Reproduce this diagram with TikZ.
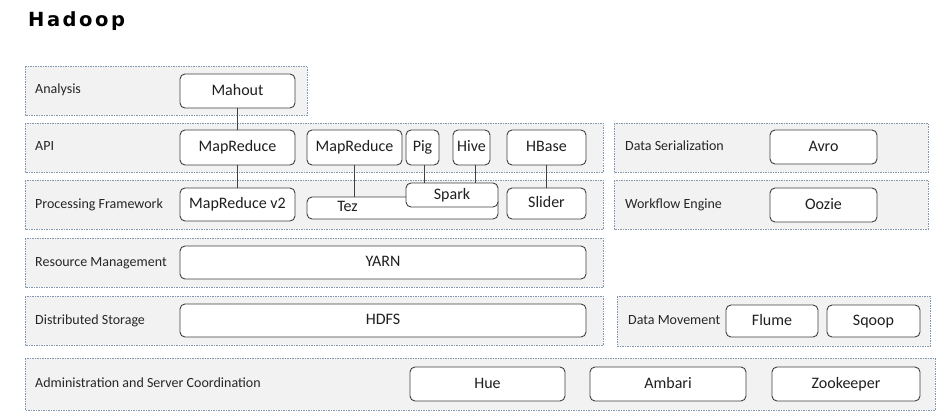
\documentclass[tikz,border=0pt]{standalone}
\usepackage{fontspec}
\setmainfont{Carlito}
\newfontfamily\titlefont[LetterSpace=13]{DejaVu Sans}
\definecolor{bandfill}{HTML}{F2F2F2}
\definecolor{bandline}{HTML}{8497B0}
\definecolor{boxline}{HTML}{404040}
\begin{document}
\begin{tikzpicture}[x=1pt,y=-1pt,
  band/.style={draw=bandline, fill=bandfill, dashed, dash pattern=on 1.5pt off 1pt, line width=0.7pt},
  bandlabel/.style={anchor=west, font=\fontsize{14}{16}\selectfont, text=black!85, inner sep=0pt, text height=9pt, text depth=3pt},
  boxtext/.style={font=\fontsize{16}{18}\selectfont, text=black!88, text height=11pt, text depth=3pt},
  box/.style={boxtext, draw=boxline, fill=white, rounded corners=5pt, line width=0.9pt, inner sep=0pt},
  link/.style={draw=boxline, line width=0.9pt}]
\useasboundingbox (0,0) rectangle (945,415);
% title
\node[anchor=base west, inner sep=0pt, font=\titlefont\bfseries\fontsize{19.5}{22}\selectfont] (title) at (28,26) {Hadoop};
% bands
\draw[band] (25,66) rectangle (307,115);
\draw[band] (25,123) rectangle (603,172);
\draw[band] (25,180) rectangle (603,229);
\draw[band] (25,238) rectangle (603,287);
\draw[band] (25,296) rectangle (603,345);
\draw[band] (25,358) rectangle (935,410);
\draw[band] (614,123) rectangle (928,172);
\draw[band] (614,180) rectangle (928,229);
\draw[band] (617,296) rectangle (930,346);
% band labels
\node[bandlabel] (lanalysis) at (35,90) {Analysis};
\node[bandlabel] (lapi) at (35,147) {API};
\node[bandlabel] (lproc) at (35,205) {Processing Framework};
\node[bandlabel] (lres) at (35,263) {Resource Management};
\node[bandlabel] (lstor) at (35,321) {Distributed Storage};
\node[bandlabel] (ladmin) at (35,384) {Administration and Server Coordination};
\node[bandlabel] (lser) at (625,147) {Data Serialization};
\node[bandlabel] (lwf) at (625,205) {Workflow Engine};
\node[bandlabel] (lmov) at (628,321) {Data Movement};
% node positions
\coordinate (cMahout) at (237.5,91);
\coordinate (cMRa) at (237.5,147.5);
\coordinate (cMRv) at (237.5,204.5);
\coordinate (cMRb) at (354.5,147.5);
\coordinate (cPig) at (422.5,147.5);
\coordinate (cHive) at (471.5,147.5);
\coordinate (cHBase) at (546.5,147.5);
\coordinate (cTez) at (402.5,208);
\coordinate (cSpark) at (452,195);
\coordinate (cSlider) at (546.5,203.5);
% boxes
\node[box, minimum width=115pt, minimum height=34pt] (mahout) at (cMahout) {Mahout};
\node[box, minimum width=115pt, minimum height=35pt] (mra) at (cMRa) {MapReduce};
\node[box, minimum width=115pt, minimum height=33pt] (mrv) at (cMRv) {MapReduce v2};
\node[box, minimum width=95pt, minimum height=35pt] (mrb) at (cMRb) {MapReduce};
\node[box, minimum width=33pt, minimum height=35pt] (pig) at (cPig) {Pig};
\node[box, minimum width=37pt, minimum height=35pt] (hive) at (cHive) {Hive};
\node[box, minimum width=79pt, minimum height=35pt] (hbase) at (cHBase) {HBase};
\node[box, minimum width=191pt, minimum height=22pt] (tez) at (cTez) {};
\node[boxtext, inner sep=0pt] (teztext) at ([xshift=-55pt,yshift=1pt]cTez) {Tez};
\draw[link] (mahout.south) -- (mra.north);
\draw[link] (mra.south) -- (mrv.north);
\draw[link] (mrb.south) -- (mrb.south |- tez.north);
\node[box, minimum width=92pt, minimum height=24pt] (spark) at (cSpark) {Spark};
\node[box, minimum width=79pt, minimum height=31pt] (slider) at (cSlider) {Slider};
\draw[link] ([xshift=2pt]pig.south) -- ([xshift=2pt]pig.south |- spark.north);
\draw[link] ([xshift=4pt]hive.south) -- ([xshift=4pt]hive.south |- spark.north);
\draw[link] (hbase.south) -- (slider.north);
\node[box, minimum width=406pt, minimum height=33pt] (yarn) at (383,262.5) {YARN};
\node[box, minimum width=406pt, minimum height=33pt] (hdfs) at (383,320.5) {HDFS};
\node[box, minimum width=107pt, minimum height=34pt] (avro) at (823.5,147) {Avro};
\node[box, minimum width=107pt, minimum height=34pt] (oozie) at (823.5,205) {Oozie};
\node[box, minimum width=92pt, minimum height=32pt] (flume) at (772,321) {Flume};
\node[box, minimum width=93pt, minimum height=32pt] (sqoop) at (873.5,321) {Sqoop};
\node[box, minimum width=155pt, minimum height=34pt] (hue) at (487.5,384) {Hue};
\node[box, minimum width=156pt, minimum height=34pt] (ambari) at (668,384) {Ambari};
\node[box, minimum width=148pt, minimum height=34pt] (zoo) at (846,384) {Zookeeper};
\end{tikzpicture}
\end{document}
